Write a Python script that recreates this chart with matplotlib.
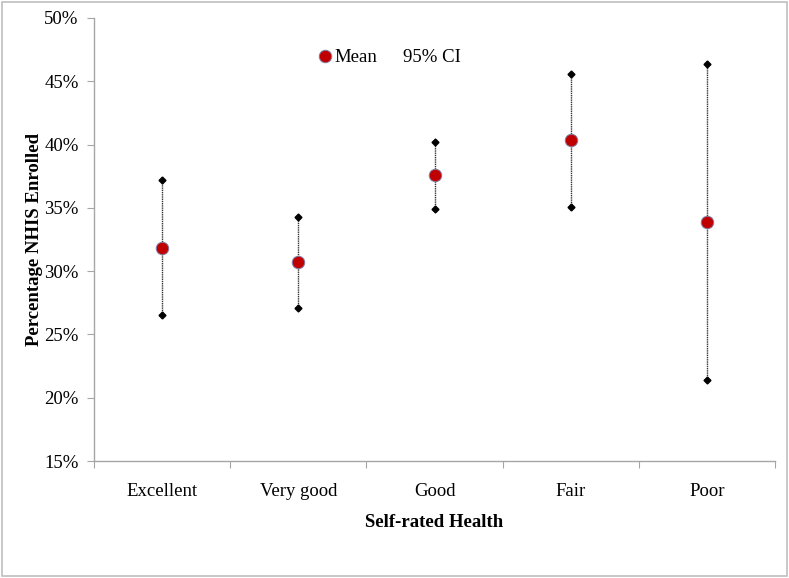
import matplotlib
matplotlib.use("Agg")
import matplotlib.pyplot as plt
from matplotlib.lines import Line2D
from matplotlib.patches import Rectangle
import numpy as np

# datos (porcentajes)
categorias = ["Excellent", "Very good", "Good", "Fair", "Poor"]
media = [31.8, 30.7, 37.6, 40.4, 33.9]
ic_inferior = [26.5, 27.1, 34.9, 35.1, 21.4]
ic_superior = [37.2, 34.3, 40.2, 45.6, 46.4]
yticks = [15, 20, 25, 30, 35, 40, 45, 50]

plt.rcParams['font.family'] = ['Liberation Serif', 'DejaVu Serif']

fig = plt.figure(figsize=(7.89, 5.78), dpi=100)
ax = fig.add_axes([94/789, 1-461/578, (775-94)/789, (461-18)/578])

x = np.arange(len(categorias))
gris = '#a6a6a6'
rojo = '#c00000'
borde = '#8080a8'

# lineas del intervalo de confianza
for xi, lo, hi in zip(x, ic_inferior, ic_superior):
    ax.plot([xi, xi], [lo, hi], color='#333333', lw=1.0, ls=(0, (1, 0.6)), zorder=2)
ax.plot(x, ic_inferior, 'D', color='black', ms=3.5, ls='none', zorder=3)
ax.plot(x, ic_superior, 'D', color='black', ms=3.5, ls='none', zorder=3)
ax.plot(x, media, 'o', mfc=rojo, mec=borde, mew=0.7, ms=9, ls='none', zorder=4)

ax.set_xlim(-0.5, len(categorias) - 0.5)
ax.set_ylim(15, 50)
ax.set_yticks(yticks)
ax.set_yticklabels([f"{v}%" for v in yticks], fontsize=13.5)
ax.set_xticks(np.arange(-0.5, len(categorias)), labels=[''] * (len(categorias) + 1))
ax.set_xticks(x, labels=categorias, minor=True)
ax.tick_params(axis='x', which='minor', length=0, labelsize=13.5, pad=16)
ax.tick_params(axis='both', which='major', length=5, color=gris, direction='out')
ax.tick_params(axis='y', pad=6)

for lado in ['top', 'right']:
    ax.spines[lado].set_visible(False)
for lado in ['left', 'bottom']:
    ax.spines[lado].set_color(gris)
    ax.spines[lado].set_linewidth(1.0)

ax.set_xlabel('Self-rated Health', fontsize=13.5, fontweight='bold', labelpad=10)
ax.set_ylabel('Percentage NHIS Enrolled', fontsize=13.5, fontweight='bold', labelpad=1)

h_media = Line2D([], [], marker='o', mfc=rojo, mec=borde, mew=0.7, ms=9, ls='none')
h_ic = Line2D([], [], color='none')
ax.legend([h_media, h_ic], ['Mean', '95% CI'], loc='center', bbox_to_anchor=(0.435, 0.91),
          ncol=2, frameon=False, fontsize=13.5, handlelength=0.6, handletextpad=0.2,
          columnspacing=0.6)

# borde de la figura
fig.patches.append(Rectangle((0.002, 0.004), 0.995, 0.993, transform=fig.transFigure,
                             fill=False, edgecolor='#bfbfbf', lw=1.2))

fig.savefig('out.png', dpi=100)
